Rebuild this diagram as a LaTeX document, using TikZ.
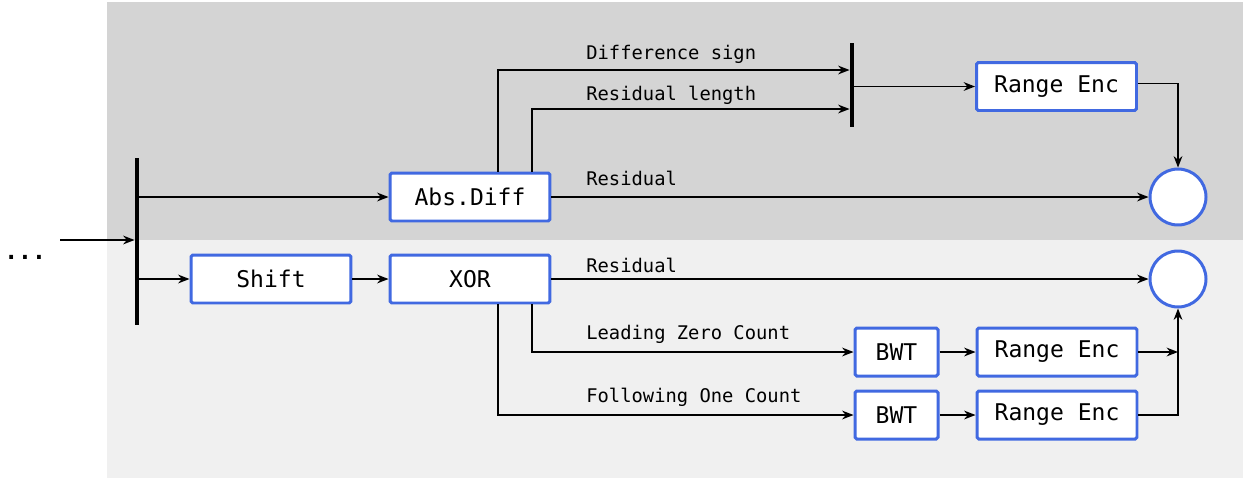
\documentclass[tikz,border=0pt]{standalone}
\usepackage{fontspec}
\setmonofont{DejaVu Sans Mono}
\usetikzlibrary{arrows.meta,calc}

\definecolor{encblue}{HTML}{4169E1}
\definecolor{bgdark}{HTML}{D4D4D4}
\definecolor{bglight}{HTML}{F0F0F0}

\tikzset{
    blk/.style={draw=encblue, line width=1.7pt, fill=white, rounded corners=1pt,
        minimum width=3.2cm, minimum height=0.96cm, inner sep=0pt,
        font=\ttfamily\fontsize{13.1}{15}\selectfont},
    sink/.style={circle, draw=encblue, line width=1.7pt, fill=white,
        minimum size=1.12cm, inner sep=0pt},
    bar/.style={fill=black, inner sep=0pt, minimum width=2.4pt},
    lbl/.style={anchor=base west, inner sep=0pt,
        font=\ttfamily\fontsize{10.7}{12}\selectfont},
    flow/.style={-{Stealth[length=6.5pt,width=5pt]}, line width=0.8pt}
}

\begin{document}
\begin{tikzpicture}[x=0.02cm, y=-0.02cm]
    \fill[bgdark] (107,2) rectangle (1243,240);
    \fill[bglight] (107,240) rectangle (1243,478);
    \useasboundingbox (0,0) rectangle (1243,481);

    \node[lbl, font=\ttfamily\bfseries\fontsize{13.1}{15}\selectfont] (dots) at (4,259) {...};
    \coordinate (in) at (60,240);

    \node[bar, minimum height=3.34cm] (split) at (137,241.5) {};
    \node[blk] (absdiff) at (470,197) {Abs.Diff};
    \node[blk] (shift) at (271,279) {Shift};
    \node[blk] (xor) at (470,279) {XOR};
    \node[bar, minimum height=1.68cm] (merge) at (852,85) {};
    \node[blk] (renc) at (1056.5,86.5) {Range Enc};
    \node[sink] (outA) at (1178,197) {};
    \node[sink] (outB) at (1178,279) {};
    \node[blk, minimum width=1.66cm] (bwtA) at (896.5,352) {BWT};
    \node[blk] (rencA) at (1057,352) {Range Enc};
    \node[blk, minimum width=1.66cm] (bwtB) at (896.5,415) {BWT};
    \node[blk] (rencB) at (1057,415) {Range Enc};

    \node[lbl] (lsign) at (586,59) {Difference sign};
    \node[lbl] (llen) at (586,100) {Residual length};
    \node[lbl] (lresA) at (586,185) {Residual};
    \node[lbl] (lresB) at (586,272) {Residual};
    \node[lbl] (llzc) at (586,339) {Leading Zero Count};
    \node[lbl] (lfoc) at (586,402) {Following One Count};

    \draw[flow] (in) -- (in -| split.west);
    \draw[flow] (split.east |- absdiff) -- (absdiff.west);
    \draw[flow] (split.east |- shift) -- (shift.west);
    \draw[flow] (shift.east) -- (xor.west);

    \draw[flow] ($(absdiff.north)+(28,0)$) |- ($(merge.west)+(0,-15)$);
    \draw[flow] ($(absdiff.north)+(62,0)$) |- ($(merge.west)+(0,24)$);
    \draw[flow] (merge.east |- renc) -- (renc.west);
    \draw[flow] ($(renc.east)+(0,-3)$) -| (outA.north);
    \draw[flow] (absdiff.east) -- (outA.west);

    \draw[flow] (xor.east) -- (outB.west);
    \draw[flow] ($(xor.south)+(62,0)$) |- (bwtA.west);
    \draw[flow] ($(xor.south)+(28,0)$) |- (bwtB.west);
    \draw[flow] (bwtA.east) -- (rencA.west);
    \draw[flow] (bwtB.east) -- (rencB.west);
    \coordinate (join) at (outB.south |- rencA);
    \draw[flow] (rencA.east) -- (join);
    \draw[flow] (rencB.east) -| (outB.south);
\end{tikzpicture}
\end{document}
